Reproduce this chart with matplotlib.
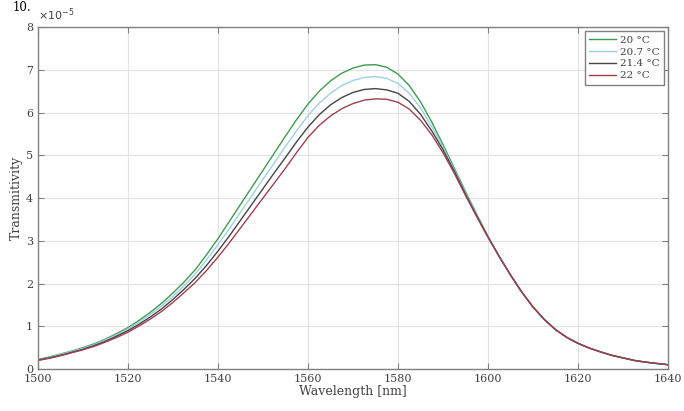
import numpy as np
import matplotlib
matplotlib.use('Agg')
import matplotlib.pyplot as plt

plt.rcParams['font.family'] = ['DejaVu Serif']

# wavelength [nm], every 2.5 nm
wl = np.arange(1500, 1640.1, 2.5)

# transmissivity, units of 1e-5
tail = [2.63, 2.20, 1.80, 1.45, 1.16, 0.92, 0.74, 0.60, 0.49, 0.40, 0.32, 0.26, 0.20, 0.16, 0.13, 0.10]

t_20 = [0.22, 0.28, 0.35, 0.42, 0.50, 0.59, 0.70, 0.83, 0.97, 1.14, 1.33, 1.54, 1.78, 2.04, 2.33, 2.68,
        3.05, 3.45, 3.85, 4.25, 4.65,
        5.05, 5.45, 5.84, 6.20, 6.50, 6.74, 6.92, 7.04, 7.11, 7.12, 7.06, 6.90, 6.63, 6.25, 5.78,
        5.25, 4.70, 4.15, 3.62, 3.10] + tail
t_207 = [0.21, 0.27, 0.34, 0.41, 0.48, 0.57, 0.68, 0.80, 0.94, 1.10, 1.28, 1.48, 1.70, 1.95, 2.23, 2.56,
         2.91, 3.28, 3.67, 4.05, 4.44,
         4.82, 5.21, 5.58, 5.93, 6.22, 6.45, 6.63, 6.75, 6.82, 6.84, 6.80, 6.68, 6.45, 6.11, 5.67,
         5.19, 4.66, 4.12, 3.60, 3.10] + tail
t_214 = [0.21, 0.26, 0.32, 0.39, 0.46, 0.55, 0.65, 0.77, 0.90, 1.05, 1.22, 1.41, 1.63, 1.87, 2.13, 2.43,
         2.76, 3.11, 3.48, 3.85, 4.22,
         4.59, 4.95, 5.32, 5.66, 5.95, 6.18, 6.35, 6.47, 6.54, 6.56, 6.53, 6.45, 6.26, 5.96, 5.57,
         5.13, 4.63, 4.09, 3.58, 3.09] + tail
t_22 = [0.20, 0.25, 0.31, 0.38, 0.45, 0.53, 0.63, 0.74, 0.86, 1.01, 1.17, 1.35, 1.56, 1.79, 2.03, 2.31,
        2.62, 2.95, 3.30, 3.65, 4.00,
        4.35, 4.70, 5.07, 5.42, 5.70, 5.92, 6.09, 6.21, 6.29, 6.32, 6.31, 6.24, 6.08, 5.82, 5.48,
        5.06, 4.58, 4.06, 3.56, 3.08] + tail

labels = ['20 °C', '20.7 °C', '21.4 °C', '22 °C']
colors = ['#3f9a4f', '#9fd0e2', '#454545', '#a0404f']

fig = plt.figure(figsize=(6.84, 4.11), dpi=100)
ax = fig.add_axes([0.0556, 0.1022, 0.921, 0.832])

for y, lab, c in zip([t_20, t_207, t_214, t_22], labels, colors):
    ax.plot(wl, y, color=c, lw=1.0, label=lab)

ax.set_xlim(1500, 1640)
ax.set_ylim(0, 8)
ax.set_xticks(np.arange(1500, 1641, 20))
ax.set_yticks(np.arange(0, 9, 1))
ax.grid(True, color='#e2e2e2', lw=0.8)
ax.set_axisbelow(True)
ax.tick_params(direction='in', top=True, right=True, labelsize=8,
               colors='#808080', labelcolor='#404040', length=4)
for s in ax.spines.values():
    s.set_color('#808080')
    s.set_linewidth(1.0)

ax.set_xlabel('Wavelength [nm]', fontsize=9, color='#404040', labelpad=1)
ax.set_ylabel('Transmitivity', fontsize=9, color='#404040', labelpad=2)
ax.text(0.0, 1.012, r'$\times 10^{-5}$', transform=ax.transAxes, fontsize=8,
        color='#404040', ha='left', va='bottom')

leg = ax.legend(loc='upper right', fontsize=7.5, handlelength=2.6, handletextpad=0.4,
                borderaxespad=0.4, fancybox=False, framealpha=1, labelspacing=0.25,
                borderpad=0.4)
leg.get_frame().set_edgecolor('#808080')
leg.get_frame().set_linewidth(1.0)
for t in leg.get_texts():
    t.set_color('#404040')

# caption fragment at the top edge
fig.text(0.018, 0.998, '10.', fontsize=8.5, ha='left', va='top')

fig.savefig('out.png', dpi=100)
